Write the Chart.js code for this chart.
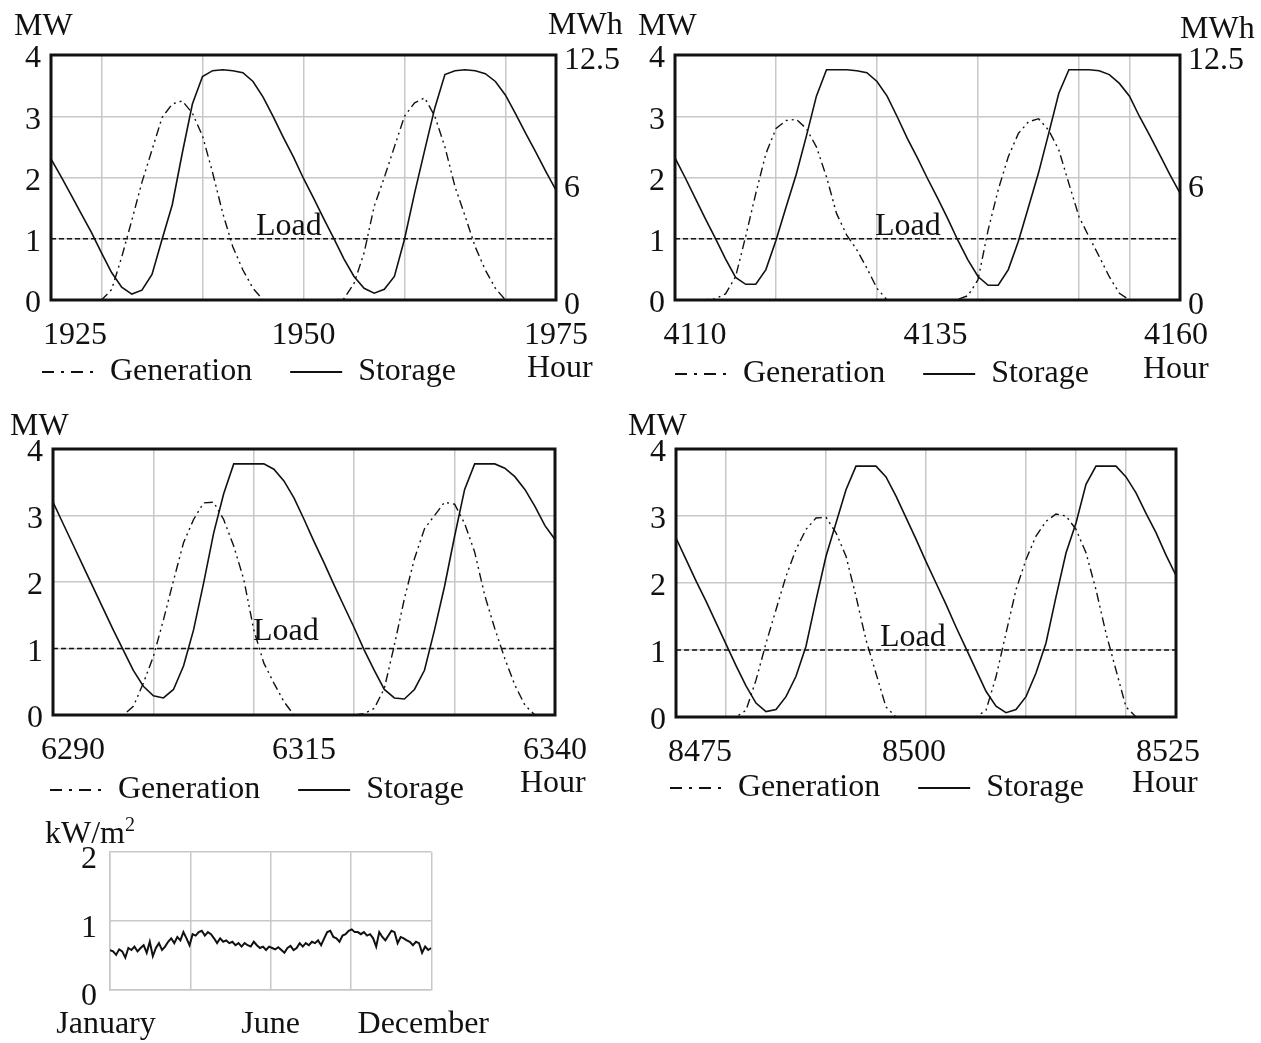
<!DOCTYPE html>
<html>
<head>
<meta charset="utf-8">
<script src="https://cdn.jsdelivr.net/npm/chart.js@4.4.0/dist/chart.umd.min.js"></script>
<style>
  body { margin: 0; background: #fff; }
  #wrap { position: relative; width: 1261px; height: 1043px; background: #fff; overflow: hidden;
          font-family: "Liberation Serif", "Times New Roman", serif; color: #111; }
  canvas { position: absolute; }
  .t { position: absolute; font-size: 32px; line-height: 32px; white-space: nowrap; }
  .t sup { font-size: 20px; line-height: 0; vertical-align: 12px; }
</style>
</head>
<body>
<div id="wrap">
  <canvas id="p1" width="630" height="398" style="left:0;top:0"></canvas>
  <canvas id="p2" width="631" height="400" style="left:630px;top:0"></canvas>
  <canvas id="p3" width="630" height="421" style="left:0;top:395px"></canvas>
  <canvas id="p4" width="631" height="419" style="left:630px;top:395px"></canvas>
  <canvas id="p5" width="520" height="223" style="left:0;top:820px"></canvas>

  <div class="t" style="left:14px;top:8px">MW</div>
  <div class="t" style="left:548px;top:7px">MWh</div>
  <div class="t" style="left:256px;top:208px">Load</div>
  <div class="t" style="left:527px;top:350px">Hour</div>

  <div class="t" style="left:638px;top:8px">MW</div>
  <div class="t" style="left:1180px;top:11px">MWh</div>
  <div class="t" style="left:875px;top:208px">Load</div>
  <div class="t" style="left:1143px;top:351px">Hour</div>

  <div class="t" style="left:10px;top:408px">MW</div>
  <div class="t" style="left:253px;top:613px">Load</div>
  <div class="t" style="left:520px;top:765px">Hour</div>

  <div class="t" style="left:628px;top:408px">MW</div>
  <div class="t" style="left:880px;top:619px">Load</div>
  <div class="t" style="left:1132px;top:765px">Hour</div>

  <div class="t" style="left:45px;top:816px">kW/m<sup>2</sup></div>
</div>

<script>
// first hour of each panel, one value per hour after that
const startHour = [1925, 4110, 6290, 8475];
const loadMW = 1;

// generation, MW
const gen1 = [0, 0, 0, 0, 0, 0, 0.17, 0.7, 1.3, 1.92, 2.45, 2.98, 3.2, 3.25, 3.05, 2.68, 2.08, 1.42, 0.87, 0.49, 0.19, 0,
  0, 0, 0, 0, 0, 0, 0, 0.02, 0.27, 0.77, 1.53, 2.0, 2.5, 3.0, 3.22, 3.3, 3.0, 2.5, 1.85, 1.37, 0.87, 0.49, 0.19, 0,
  0, 0, 0, 0, 0];
const gen2 = [0, 0, 0, 0, 0.02, 0.1, 0.38, 1.04, 1.74, 2.39, 2.8, 2.93, 2.95, 2.8, 2.5, 2.01, 1.41, 1.06, 0.82, 0.52, 0.19, 0,
  0, 0, 0, 0, 0, 0, 0.01, 0.07, 0.33, 1.14, 1.8, 2.34, 2.72, 2.91, 2.96, 2.77, 2.45, 1.9, 1.36, 1.03, 0.71, 0.38, 0.11, 0,
  0, 0, 0, 0, 0];
const gen3 = [0, 0, 0, 0, 0, 0, 0, 0, 0.13, 0.48, 0.88, 1.43, 2.02, 2.59, 2.94, 3.19, 3.2, 2.94, 2.54, 2.04, 1.28, 0.78, 0.48, 0.2, 0,
  0, 0, 0, 0, 0, 0, 0.02, 0.1, 0.4, 1.05, 1.75, 2.35, 2.8, 3.0, 3.2, 3.17, 2.88, 2.45, 1.8, 1.3, 0.85, 0.45, 0.15, 0,
  0, 0];
const gen4 = [0, 0, 0, 0, 0, 0, 0, 0.1, 0.55, 1.1, 1.6, 2.1, 2.5, 2.8, 2.97, 2.98, 2.75, 2.4, 1.8, 1.15, 0.65, 0.15, 0,
  0, 0, 0, 0, 0, 0, 0, 0, 0.1, 0.6, 1.25, 1.9, 2.35, 2.7, 2.92, 3.03, 3.0, 2.8, 2.45, 1.9, 1.25, 0.7, 0.15, 0,
  0, 0, 0, 0];

// storage, MWh
const sto1 = [7.2, 6.3, 5.35, 4.4, 3.45, 2.4, 1.4, 0.65, 0.3, 0.5, 1.3, 3.1, 4.85, 7.5, 10.0, 11.4, 11.7, 11.75, 11.7, 11.6,
  11.15, 10.35, 9.35, 8.3, 7.3, 6.2, 5.2, 4.15, 3.15, 2.1, 1.2, 0.6, 0.35, 0.55, 1.2, 3.1, 5.45, 7.65, 9.8, 11.5,
  11.7, 11.75, 11.7, 11.55, 11.15, 10.45, 9.5, 8.5, 7.55, 6.55, 5.6];
const sto2 = [7.25, 6.25, 5.2, 4.15, 3.15, 2.1, 1.15, 0.8, 0.8, 1.55, 3.05, 4.75, 6.4, 8.35, 10.4, 11.75, 11.75, 11.75, 11.7, 11.6,
  11.15, 10.4, 9.35, 8.25, 7.25, 6.2, 5.2, 4.15, 3.05, 2.05, 1.2, 0.75, 0.75, 1.55, 3.0, 4.75, 6.5, 8.5, 10.55, 11.75,
  11.75, 11.75, 11.7, 11.5, 11.05, 10.4, 9.35, 8.4, 7.4, 6.4, 5.45];
const sto3 = [10.0, 9.0, 8.0, 7.0, 6.0, 5.0, 4.0, 3.05, 2.1, 1.35, 0.9, 0.8, 1.2, 2.3, 4.0, 6.2, 8.55, 10.4, 11.8, 11.8,
  11.8, 11.8, 11.55, 11.0, 10.2, 9.2, 8.15, 7.15, 6.1, 5.1, 4.1, 3.05, 2.1, 1.2, 0.8, 0.75, 1.2, 2.1, 4.0, 6.05,
  8.4, 10.6, 11.8, 11.8, 11.8, 11.6, 11.2, 10.6, 9.8, 8.9, 8.25];
const sto4 = [8.35, 7.35, 6.35, 5.4, 4.4, 3.4, 2.4, 1.45, 0.65, 0.25, 0.35, 0.95, 1.9, 3.3, 5.45, 7.5, 9.05, 10.6, 11.7, 11.7,
  11.7, 11.2, 10.3, 9.3, 8.3, 7.25, 6.25, 5.25, 4.2, 3.2, 2.2, 1.2, 0.5, 0.2, 0.35, 0.95, 2.05, 3.45, 5.6, 7.65,
  9.05, 10.85, 11.7, 11.7, 11.7, 11.2, 10.45, 9.5, 8.6, 7.55, 6.6];

// x tick labels per panel (spaces nudge them like the original)
const xLabels1 = {1925: '      1925', 1950: '1950', 1975: '1975'};
const xLabels2 = {4110: '     4110', 4135: '  4135', 4160: '4160 '};
const xLabels3 = {6290: '     6290', 6315: '6315', 6340: '6340'};
const xLabels4 = {8475: '      8475', 8500: '8500   ', 8525: '8525  '};
// vertical grid lines per panel
const xGrid1 = [1930, 1940, 1950, 1960, 1970];
const xGrid2 = [4120, 4130, 4140, 4150, 4155];
const xGrid3 = [6300, 6310, 6320, 6330];
const xGrid4 = [8480, 8490, 8500, 8510, 8515, 8520];
const mwTicks = [0, 1, 2, 3, 4];
const mwhTicks = [0, 6, 12.5];

// daily irradiance, kW/m2, January -> December
const irradiance = [0.58, 0.56, 0.51, 0.59, 0.56, 0.47, 0.61, 0.58, 0.63, 0.56, 0.61, 0.65, 0.54, 0.70, 0.49, 0.61,
  0.68, 0.58, 0.63, 0.70, 0.75, 0.68, 0.77, 0.72, 0.84, 0.75, 0.65, 0.81, 0.79, 0.84, 0.86, 0.79, 0.84, 0.81, 0.75,
  0.68, 0.75, 0.70, 0.72, 0.68, 0.70, 0.65, 0.68, 0.63, 0.68, 0.65, 0.63, 0.70, 0.65, 0.61, 0.63, 0.58,
  0.63, 0.61, 0.59, 0.62, 0.58, 0.54, 0.61, 0.64, 0.58, 0.61, 0.68, 0.63, 0.68, 0.65, 0.70, 0.68, 0.72, 0.65,
  0.75, 0.84, 0.86, 0.77, 0.75, 0.70, 0.79, 0.81, 0.86, 0.88, 0.84, 0.84, 0.81, 0.84, 0.79, 0.81, 0.75, 0.63,
  0.84, 0.77, 0.72, 0.79, 0.86, 0.84, 0.68, 0.77, 0.75, 0.72, 0.70, 0.65, 0.70, 0.68, 0.54, 0.63, 0.58, 0.61];
const monthLabels = ['January ', '', 'June', '', 'December  '];

const INK = '#111';
const GRID = '#c8c8c8';
const NONE = 'rgba(0,0,0,0)';
const GEN_DASH = [9, 4, 2, 4, 2, 4];

Chart.defaults.font.family = '"Liberation Serif", "Times New Roman", serif';
Chart.defaults.font.size = 32;
Chart.defaults.color = INK;

const frame = {
  id: 'frame',
  afterDatasetsDraw(chart) {
    const a = chart.chartArea;
    const ctx = chart.ctx;
    ctx.save();
    ctx.lineWidth = 3;
    ctx.strokeStyle = INK;
    ctx.strokeRect(a.left, a.top, a.right - a.left, a.bottom - a.top);
    ctx.restore();
  }
};

function legendItems(chart) {
  return Chart.defaults.plugins.legend.labels.generateLabels(chart)
    .filter(it => it.text !== 'Load')
    .map(it => Object.assign(it, {
      lineDash: it.text === 'Generation' ? [12, 7, 3, 7] : [],
      lineWidth: 2, strokeStyle: INK, pointStyle: 'line'
    }));
}

function panel(id, start, gen, sto, xLabels, xGrid, o) {
  const end = start + gen.length - 1;
  const xTicks = [...new Set([start, ...xGrid, start + 25, end])].sort((a, b) => a - b);
  new Chart(document.getElementById(id), {
    type: 'line',
    data: {
      datasets: [
        { label: 'Generation', data: gen.map((v, i) => ({x: start + i, y: v})), yAxisID: 'y',
          borderColor: INK, borderWidth: 1.4, borderDash: GEN_DASH },
        { label: 'Storage', data: sto.map((v, i) => ({x: start + i, y: v})), yAxisID: 'y2',
          borderColor: INK, borderWidth: 1.6 },
        { label: 'Load', data: [{x: start, y: loadMW}, {x: end, y: loadMW}], yAxisID: 'y',
          borderColor: INK, borderWidth: 1.3, borderDash: [5, 3] }
      ]
    },
    options: {
      responsive: false,
      animation: false,
      events: [],
      elements: { point: { radius: 0 }, line: { tension: 0 } },
      layout: { autoPadding: false, padding: { top: o.top, left: o.left, right: o.right, bottom: 0 } },
      plugins: {
        tooltip: { enabled: false },
        legend: {
          position: 'bottom', align: 'start',
          labels: {
            usePointStyle: true, pointStyleWidth: 52, padding: 38,
            font: { size: 32 }, color: INK,
            generateLabels: legendItems
          }
        }
      },
      scales: {
        x: {
          type: 'linear', min: start, max: end,
          afterBuildTicks: s => { s.ticks = xTicks.map(v => ({value: v})); },
          afterFit: s => { s.height = o.xh; },
          grid: { drawTicks: false, lineWidth: 1.5, color: c => xGrid.includes(c.tick.value) ? GRID : NONE },
          border: { display: false },
          // mirrored so the labels are not clipped to the short axis box; negative padding puts them below
          ticks: { autoSkip: false, maxRotation: 0, mirror: true, padding: -55, callback: v => xLabels[v] || '' }
        },
        y: {
          min: 0, max: 4,
          afterBuildTicks: s => { s.ticks = mwTicks.map(v => ({value: v})); },
          afterFit: s => { s.width = o.yw; },
          grid: { drawTicks: false, lineWidth: 1.5, color: GRID },
          border: { display: false },
          ticks: { padding: 10, labelOffset: 4 }
        },
        y2: {
          position: 'right', display: o.y2w > 0, min: 0, max: 12.5,
          afterBuildTicks: s => { s.ticks = mwhTicks.map(v => ({value: v})); },
          afterFit: s => { s.width = o.y2w; },
          grid: { display: false, drawTicks: false },
          border: { display: false },
          ticks: { padding: 8, labelOffset: 6 }
        }
      }
    },
    plugins: [frame]
  });
}

panel('p1', startHour[0], gen1, sto1, xLabels1, xGrid1, {top: 55, left: 4, right: 0, yw: 47, y2w: 74, xh: 18});
panel('p2', startHour[1], gen2, sto2, xLabels2, xGrid2, {top: 55, left: 7, right: 0, yw: 38, y2w: 81, xh: 20});
panel('p3', startHour[2], gen3, sto3, xLabels3, xGrid3, {top: 54, left: 12, right: 75, yw: 41, y2w: 0, xh: 21});
panel('p4', startHour[3], gen4, sto4, xLabels4, xGrid4, {top: 54, left: 2, right: 85, yw: 44, y2w: 0, xh: 17});

// small irradiance chart
const last = irradiance.length - 1;
new Chart(document.getElementById('p5'), {
  type: 'line',
  data: {
    datasets: [{ label: 'Irradiance', data: irradiance.map((v, i) => ({x: i, y: v})),
      borderColor: INK, borderWidth: 2, pointRadius: 0, tension: 0 }]
  },
  options: {
    responsive: false,
    animation: false,
    events: [],
    layout: { autoPadding: false, padding: { top: 32, left: 0, right: 83, bottom: 0 } },
    plugins: { legend: { display: false }, tooltip: { enabled: false } },
    scales: {
      x: {
        type: 'linear', min: 0, max: last,
        afterBuildTicks: s => { s.ticks = [0, 1, 2, 3, 4].map(k => ({value: last * k / 4})); },
        afterFit: s => { s.height = 53; },
        grid: { drawTicks: false, lineWidth: 1.5, color: GRID },
        border: { color: GRID, width: 1.5 },
        ticks: { autoSkip: false, maxRotation: 0, padding: 15,
          callback: (v, i) => monthLabels[i] }
      },
      y: {
        min: 0, max: 2,
        afterBuildTicks: s => { s.ticks = [0, 1, 2].map(v => ({value: v})); },
        afterFit: s => { s.width = 110; },
        grid: { drawTicks: false, lineWidth: 1.5, color: GRID },
        border: { color: GRID, width: 1.5 },
        ticks: { padding: 13, labelOffset: 7 }
      }
    }
  }
});
</script>
</body>
</html>
